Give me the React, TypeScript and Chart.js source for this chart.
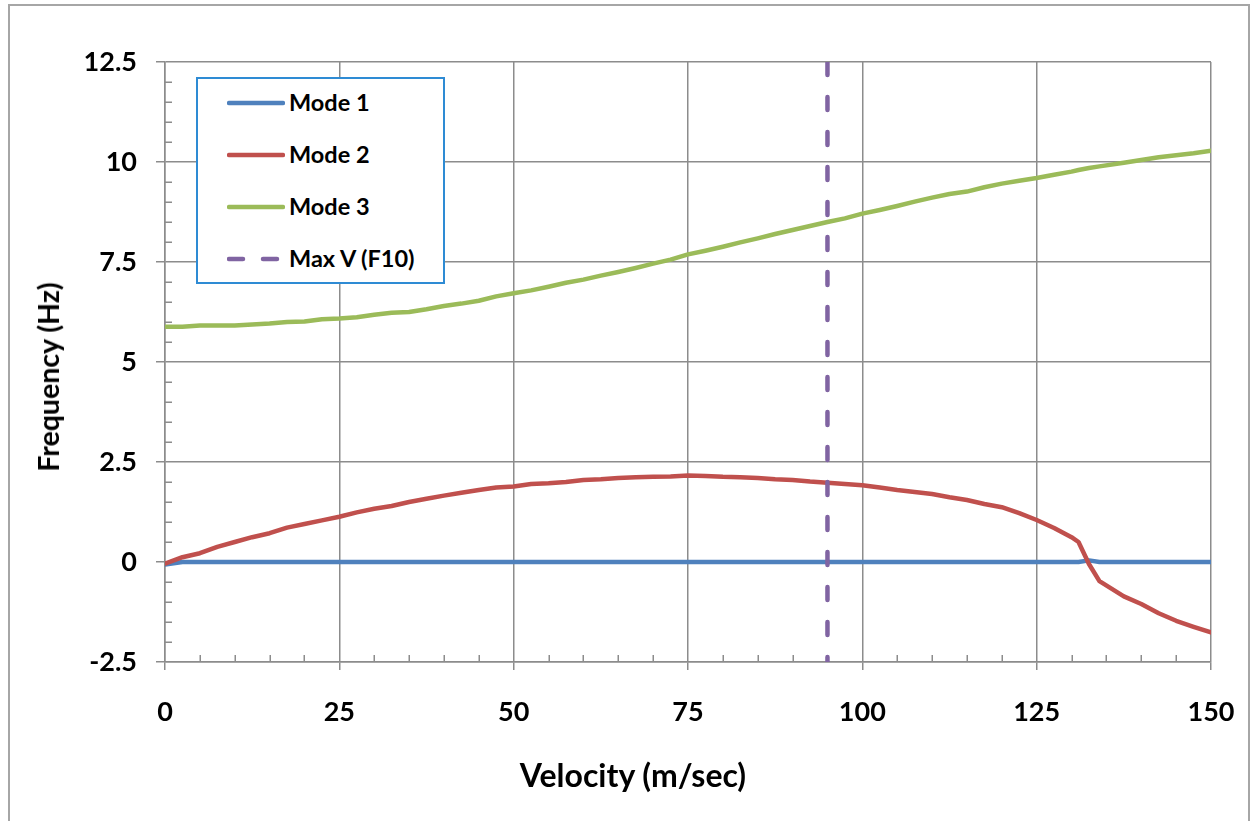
import React, { useEffect, useRef } from "react";
import { Chart, registerables } from "chart.js";

Chart.register(...registerables);

// ---------- data ----------
const velocity = [
  0, 2.5, 5, 7.5, 10, 12.5, 15, 17.5, 20, 22.5, 25, 27.5, 30, 32.5, 35, 37.5,
  40, 42.5, 45, 47.5, 50, 52.5, 55, 57.5, 60, 62.5, 65, 67.5, 70, 72.5, 75,
  77.5, 80, 82.5, 85, 87.5, 90, 92.5, 95, 97.5, 100, 102.5, 105, 107.5, 110,
  112.5, 115, 117.5, 120, 122.5, 125, 127.5, 130, 131, 132.5, 134, 137.5, 140,
  142.5, 145, 147.5, 150,
];

const mode1 = [
  -0.06, 0, 0, 0, 0, 0, 0, 0, 0, 0, 0, 0, 0, 0, 0, 0,
  0, 0, 0, 0, 0, 0, 0, 0, 0, 0, 0, 0, 0, 0, 0,
  0, 0, 0, 0, 0, 0, 0, 0, 0, 0, 0, 0, 0, 0,
  0, 0, 0, 0, 0, 0, 0, 0, 0, 0.04, 0, 0, 0,
  0, 0, 0, 0,
];

const mode2 = [
  -0.04, 0.12, 0.22, 0.38, 0.5, 0.62, 0.72, 0.86, 0.95, 1.04, 1.13, 1.24, 1.33, 1.4, 1.5, 1.58,
  1.66, 1.73, 1.8, 1.86, 1.89, 1.95, 1.97, 2.0, 2.05, 2.07, 2.1, 2.12, 2.13, 2.14, 2.16,
  2.15, 2.13, 2.12, 2.1, 2.07, 2.05, 2.01, 1.98, 1.95, 1.92, 1.86, 1.8, 1.75, 1.7,
  1.62, 1.55, 1.45, 1.37, 1.22, 1.05, 0.85, 0.62, 0.5, -0.05, -0.48, -0.86, -1.05,
  -1.28, -1.47, -1.62, -1.76,
];

const mode3 = [
  5.88, 5.88, 5.91, 5.91, 5.91, 5.94, 5.96, 6.0, 6.01, 6.07, 6.09, 6.12, 6.18, 6.23, 6.25, 6.32,
  6.4, 6.46, 6.53, 6.64, 6.72, 6.79, 6.88, 6.98, 7.06, 7.16, 7.25, 7.35, 7.46, 7.56, 7.69,
  7.78, 7.88, 7.99, 8.09, 8.2, 8.3, 8.4, 8.5, 8.59, 8.71, 8.8, 8.9, 9.01, 9.11,
  9.2, 9.26, 9.37, 9.46, 9.53, 9.6, 9.68, 9.76, 9.8, 9.85, 9.89, 9.98, 10.05,
  10.12, 10.17, 10.22, 10.28,
];

const maxV = 95;
const maxVSpan = [12.5, -2.5];

const seriesNames = ["Mode 1", "Mode 2", "Mode 3", "Max V (F10)"];
const seriesColors = ["#4F81BD", "#C0504D", "#9BBB59", "#8064A2"];

const xTicks = [0, 25, 50, 75, 100, 125, 150];
const yTicks = [-2.5, 0, 2.5, 5, 7.5, 10, 12.5];
const xMinorStep = 5;
const yMinorStep = 0.5;

const xTitle = "Velocity (m/sec)";
const yTitle = "Frequency (Hz)";

// ---------- style ----------
const FONT = "Lato, 'Open Sans', sans-serif";
const GRID = "#8C8C8C";

const minorTicksPlugin = {
  id: "minorTicks",
  beforeDatasetsDraw(chart: any) {
    const { ctx, chartArea, scales } = chart;
    const xs = scales.x;
    const ys = scales.y;
    ctx.save();
    ctx.strokeStyle = GRID;
    ctx.lineWidth = 1.5;
    ctx.beginPath();
    const yCount = Math.round((ys.max - ys.min) / yMinorStep);
    for (let k = 0; k <= yCount; k++) {
      const v = ys.min + k * yMinorStep;
      if (yTicks.some((t) => Math.abs(t - v) < 1e-6)) continue;
      const py = Math.round(ys.getPixelForValue(v)) + 0.25;
      ctx.moveTo(chartArea.left, py);
      ctx.lineTo(chartArea.left + 7, py);
    }
    const xCount = Math.round((xs.max - xs.min) / xMinorStep);
    for (let k = 0; k <= xCount; k++) {
      const v = xs.min + k * xMinorStep;
      if (xTicks.some((t) => Math.abs(t - v) < 1e-6)) continue;
      const px = Math.round(xs.getPixelForValue(v)) + 0.25;
      ctx.moveTo(px, chartArea.bottom);
      ctx.lineTo(px, chartArea.bottom - 7);
    }
    ctx.stroke();
    ctx.restore();
  },
};

function Legend() {
  const rowCenters = [24, 76, 128, 180];
  return (
    <div
      style={{
        position: "fixed",
        left: 196,
        top: 77,
        width: 249,
        height: 207,
        border: "2px solid #2E8BD4",
        boxSizing: "border-box",
        background: "#fff",
      }}
    >
      {seriesNames.map((name, i) => (
        <div
          key={name}
          style={{ position: "absolute", left: 0, top: rowCenters[i] - 15, height: 30, width: "100%" }}
        >
          <svg style={{ position: "absolute", left: 29, top: 10 }} width={58} height={10}>
            <line
              x1={2}
              y1={5}
              x2={56}
              y2={5}
              stroke={seriesColors[i]}
              strokeWidth={4.5}
              strokeLinecap="round"
              strokeDasharray={i === 3 ? "14 20" : undefined}
            />
          </svg>
          <span
            style={{
              position: "absolute",
              left: 91,
              top: 0,
              lineHeight: "30px",
              font: `bold 23.5px ${FONT}`,
              color: "#000",
              whiteSpace: "nowrap",
            }}
          >
            {name}
          </span>
        </div>
      ))}
    </div>
  );
}

export default function App() {
  const ref = useRef<HTMLCanvasElement>(null);

  useEffect(() => {
    const modes = [mode1, mode2, mode3];
    const lineDatasets = modes.map((m, i) => ({
      label: seriesNames[i],
      data: velocity.map((v, j) => ({ x: v, y: m[j] })),
      borderColor: seriesColors[i],
      backgroundColor: seriesColors[i],
      borderWidth: 4.5,
      pointRadius: 0,
      tension: 0,
      borderCapStyle: "round" as const,
      borderJoinStyle: "round" as const,
      order: 4 - i,
    }));
    const maxDataset = {
      label: seriesNames[3],
      data: maxVSpan.map((y) => ({ x: maxV, y })),
      borderColor: seriesColors[3],
      backgroundColor: seriesColors[3],
      borderWidth: 4.5,
      borderDash: [13, 22],
      borderCapStyle: "round" as const,
      pointRadius: 0,
      order: 1,
    };

    const tickFont = { family: FONT, size: 27, weight: "bold" as const };

    const chart = new Chart(ref.current!, {
      type: "line",
      data: { datasets: [...lineDatasets, maxDataset] },
      plugins: [minorTicksPlugin],
      options: {
        animation: false,
        responsive: false,
        events: [],
        layout: { padding: { top: 62, right: 40, bottom: 0, left: 0 } },
        plugins: { legend: { display: false }, tooltip: { enabled: false } },
        scales: {
          x: {
            type: "linear",
            min: 0,
            max: 150,
            afterBuildTicks: (s: any) => {
              s.ticks = xTicks.map((v) => ({ value: v }));
            },
            afterFit: (s: any) => {
              s.height = 159;
              s.paddingLeft = 0;
              s.paddingRight = 0;
            },
            grid: { color: GRID, lineWidth: 1.5, tickLength: 8, drawTicks: true },
            border: { color: GRID, width: 1.5 },
            ticks: {
              font: tickFont,
              color: "#000",
              padding: 26,
              maxRotation: 0,
              autoSkip: false,
              callback: (v: any) => String(v),
            },
          },
          y: {
            type: "linear",
            min: -2.5,
            max: 12.5,
            afterBuildTicks: (s: any) => {
              s.ticks = yTicks.map((v) => ({ value: v }));
            },
            afterFit: (s: any) => {
              s.width = 165;
              s.paddingTop = 0;
              s.paddingBottom = 0;
            },
            grid: { color: GRID, lineWidth: 1.5, tickLength: 9, drawTicks: true },
            border: { color: GRID, width: 1.5 },
            ticks: {
              font: tickFont,
              color: "#000",
              padding: 19,
              autoSkip: false,
              callback: (v: any) => String(v),
            },
          },
        },
      },
    });
    return () => chart.destroy();
  }, []);

  return (
    <div>
      <div
        style={{
          position: "fixed",
          left: 8,
          top: 4,
          width: 1242,
          height: 900,
          border: "2px solid #A6A6A6",
          boxSizing: "border-box",
          background: "#fff",
        }}
      />
      <canvas
        ref={ref}
        width={1251}
        height={821}
        style={{ position: "fixed", left: 0, top: 0, width: 1251, height: 821 }}
      />
      <div
        style={{
          position: "fixed",
          left: 633,
          top: 775,
          transform: "translate(-50%, -50%)",
          font: `bold 32px ${FONT}`,
          lineHeight: "40px",
          color: "#000",
          whiteSpace: "nowrap",
        }}
      >
        {xTitle}
      </div>
      <div
        style={{
          position: "fixed",
          left: 48,
          top: 377,
          transform: "translate(-50%, -50%) rotate(-90deg)",
          font: `bold 28.5px ${FONT}`,
          lineHeight: "36px",
          color: "#000",
          whiteSpace: "nowrap",
        }}
      >
        {yTitle}
      </div>
      <Legend />
    </div>
  );
}
